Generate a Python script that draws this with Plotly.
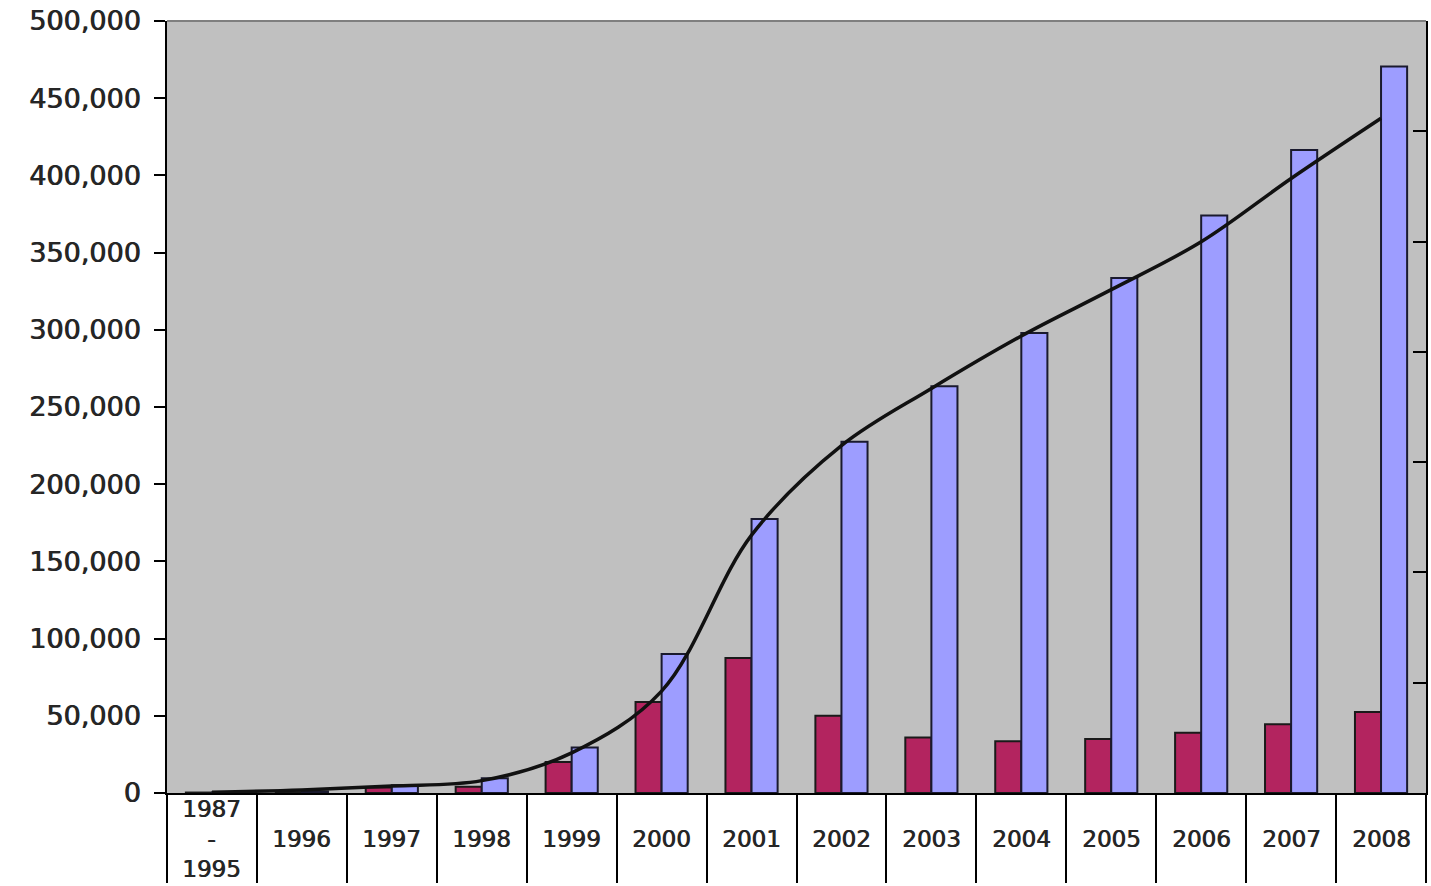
import plotly.graph_objects as go

# Yearly additions, running total and smoothed trend
categories = ["1987-1995", "1996", "1997", "1998", "1999", "2000", "2001",
              "2002", "2003", "2004", "2005", "2006", "2007", "2008"]
tick_labels = ["1987<br>-<br>1995", "1996", "1997", "1998", "1999", "2000", "2001",
               "2002", "2003", "2004", "2005", "2006", "2007", "2008"]
annual = [300, 500, 3500, 4000, 20000, 59000, 87500, 50000, 36000, 33500,
          35000, 39000, 44500, 52500]
cumulative = [300, 1000, 5000, 9500, 29500, 90000, 177500, 227500, 263500,
              298000, 333500, 374000, 416500, 470500]
trend = [500, 2000, 4500, 8000, 26000, 66000, 167000, 225000, 262000, 296000,
         326000, 357000, 398000, 437000]
y_ticks = list(range(0, 500001, 50000))

FONT = "DejaVu Sans"
TEXT = "#262626"
# slight horizontal smear gives the labels a medium weight
WEIGHT_SHADOW = "0.8px 0px 0px #262626"

fig = go.Figure()
fig.add_trace(go.Bar(x=categories, y=annual, marker=dict(color="#B3245F",
                     line=dict(color="#1a1a1a", width=2)), showlegend=False))
fig.add_trace(go.Bar(x=categories, y=cumulative, marker=dict(color="#9D9DFF",
                     line=dict(color="#1a1a2e", width=2)), showlegend=False))
fig.add_trace(go.Scatter(x=categories, y=trend, mode="lines",
                         line=dict(color="#111111", width=3.5, shape="spline", smoothing=1),
                         showlegend=False))
# keeps the right-hand axis alive
fig.add_trace(go.Scatter(x=categories, y=[None] * len(categories), yaxis="y2",
                         mode="lines", showlegend=False, hoverinfo="skip"))

# category labels sit inside the table cells below the axis
annotations = [
    dict(x=i, y=0, xref="x", yref="paper", text=t, showarrow=False,
         yanchor="middle", yshift=-46,
         font=dict(family=FONT, size=23, color=TEXT, shadow=WEIGHT_SHADOW))
    for i, t in enumerate(tick_labels)
]

fig.update_layout(
    width=1431, height=886,
    margin=dict(l=167, r=5, t=20, b=88),
    paper_bgcolor="white", plot_bgcolor="#C0C0C0",
    barmode="group", bargap=0.42, bargroupgap=0,
    showlegend=False,
    xaxis=dict(type="category", categoryorder="array", categoryarray=categories,
               range=[-0.5, len(categories) - 0.5],
               tickson="boundaries", ticks="outside", ticklen=88,
               tickwidth=2, tickcolor="black", showticklabels=False,
               showline=True, linecolor="black", linewidth=2, showgrid=False),
    yaxis=dict(range=[0, 500000], tickvals=y_ticks, tickformat=",", ticks="outside",
               ticklen=11, tickwidth=2, tickcolor="black", showline=True,
               linecolor="black", linewidth=2, showgrid=False, zeroline=False,
               ticklabelstandoff=8,
               tickfont=dict(family=FONT, size=27, color=TEXT, shadow=WEIGHT_SHADOW)),
    yaxis3=dict(range=[0, 500000], tickvals=y_ticks, overlaying="y", side="left",
                ticks="inside", ticklen=12, tickwidth=2, tickcolor="black",
                showticklabels=False, showline=False, showgrid=False, zeroline=False),
    yaxis2=dict(range=[0, 7], dtick=1, overlaying="y", side="right", anchor="x",
                ticks="inside", ticklen=13, tickwidth=2, tickcolor="black",
                showticklabels=False, showline=True, linecolor="black", linewidth=2,
                showgrid=False, zeroline=False),
    annotations=annotations,
    shapes=[dict(type="line", xref="paper", yref="paper", x0=0, x1=1, y0=1, y1=1,
                 line=dict(color="#7f7f7f", width=2))],
)

fig.write_html("out.html")
